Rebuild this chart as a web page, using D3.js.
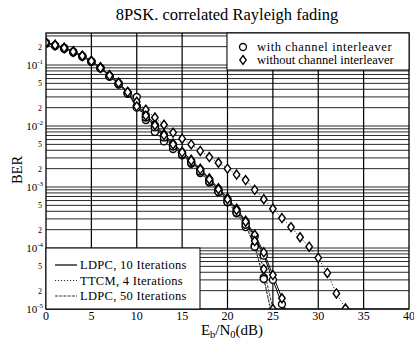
<!DOCTYPE html>
<html>
<head>
<meta charset="utf-8">
<script src="https://cdn.jsdelivr.net/npm/d3@7"></script>
<style>
  body { margin: 0; background: #fff; }
  text { font-family: "Liberation Serif", "DejaVu Serif", serif; fill: #000; }
</style>
</head>
<body>
<div id="chart"></div>
<script>
// Eb/N0 values (dB) for each curve
const snrTo25 = [0,1,2,3,4,5,6,7,8,9,10,11,12,13,14,15,16,17,18,19,20,21,22,23,24,25];
const snrTo27 = [0,1,2,3,4,5,6,7,8,9,10,11,12,13,14,15,16,17,18,19,20,21,22,23,24,25,26,27];
const snrTo33 = [0,1,2,3,4,5,6,7,8,9,10,11,12,13,14,15,16,17,18,19,20,21,22,23,24,25,26,27,28,29,30,31,32,33];

// BER
const ldpc10With = [0.23,0.21,0.19,0.165,0.14,0.115,0.09,0.066,0.05,0.035,0.021,0.0145,0.0100,0.0069,0.0049,0.0036,0.0026,0.0019,0.00130,0.00090,0.00062,0.00041,0.00026,0.000155,0.000075,0.000030,0.000012,0.000004];
const ldpc10Without = [0.235,0.215,0.19,0.168,0.142,0.117,0.092,0.068,0.052,0.036,0.022,0.0155,0.0108,0.0074,0.0052,0.0038,0.0028,0.0020,0.00138,0.00096,0.00066,0.00044,0.00028,0.000165,0.000085,0.000036,0.000015,0.000005];
const ttcmWith = [0.225,0.205,0.185,0.16,0.138,0.113,0.088,0.065,0.048,0.034,0.030,0.0125,0.0080,0.0056,0.0042,0.0033,0.0024,0.0017,0.00118,0.00083,0.00056,0.00037,0.00022,0.00011,0.000033,0.000006];
const ttcmWithout = [0.23,0.21,0.19,0.165,0.14,0.116,0.091,0.067,0.05,0.036,0.025,0.0185,0.0138,0.0105,0.0078,0.0062,0.0050,0.0039,0.0031,0.0025,0.0020,0.0016,0.0013,0.00090,0.00063,0.00044,0.00031,0.00022,0.00015,0.000105,0.000069,0.000039,0.000018,0.0000102];
const ldpc50With = [0.23,0.208,0.188,0.163,0.138,0.113,0.088,0.065,0.049,0.034,0.020,0.0138,0.0095,0.0065,0.0046,0.0034,0.0025,0.00180,0.00122,0.00084,0.00057,0.00038,0.00024,0.000105,0.000031,0.000007];
const ldpc50Without = [0.232,0.212,0.19,0.166,0.141,0.116,0.09,0.067,0.051,0.036,0.021,0.0148,0.0103,0.0071,0.0050,0.0037,0.0027,0.00195,0.00133,0.00092,0.00063,0.00042,0.00027,0.000130,0.000045,0.000010];

const xTicks = [0,5,10,15,20,25,30,35,40];
const yMajor = [1e-1,1e-2,1e-3,1e-4,1e-5];
const yMajorExp = ["-1","-2","-3","-4","-5"];
const yMinor = [2e-1,5e-2,2e-2,5e-3,2e-3,5e-4,2e-4,5e-5,2e-5];
const yMinorText = ["2","5","2","5","2","5","2","5","2"];

const series = [
  { x: snrTo27, y: ldpc10With, marker: "circle", dash: null },
  { x: snrTo27, y: ldpc10Without, marker: "diamond", dash: null },
  { x: snrTo25, y: ttcmWith, marker: "circle", dash: "1.2,1.8" },
  { x: snrTo33, y: ttcmWithout, marker: "diamond", dash: "1.2,1.8" },
  { x: snrTo25, y: ldpc50With, marker: "circle", dash: "3,1.2" },
  { x: snrTo25, y: ldpc50Without, marker: "diamond", dash: "3,1.2" }
];

const width = 414, height = 346,
      margin = ({ top: 33, right: 5, bottom: 37, left: 46 });

let svg = d3.select("#chart")
    .append("svg")
    .attr("width", width)
    .attr("height", height);

let x = d3.scaleLinear()
    .domain([0, 40])
    .range([margin.left, width - margin.right]);

let y = d3.scaleLog()
    .domain([1e-5, 0.335])
    .range([height - margin.bottom, margin.top]);

svg.append("defs").append("clipPath")
    .attr("id", "plot")
    .append("rect")
    .attr("x", margin.left).attr("y", margin.top)
    .attr("width", x(40) - x(0)).attr("height", y(1e-5) - y(0.335));

// horizontal grid on every minor decade step
let yGrid = [];
for (let e = -5; e <= -1; e++) {
    for (let m = 1; m <= 9; m++) {
        let v = m * Math.pow(10, e);
        if (v <= 0.335) yGrid.push(v);
    }
}

svg.append("g")
    .selectAll("line")
    .data(yGrid)
    .join("line")
    .attr("x1", x(0)).attr("x2", x(40))
    .attr("y1", d => y(d)).attr("y2", d => y(d))
    .attr("stroke", "#111")
    .attr("stroke-width", 0.9);

svg.append("g")
    .selectAll("line")
    .data(xTicks.slice(1, -1))
    .join("line")
    .attr("x1", d => x(d)).attr("x2", d => x(d))
    .attr("y1", y(0.335)).attr("y2", y(1e-5))
    .attr("stroke", "#000")
    .attr("stroke-width", 1.2);

// curves
let line = d3.line()
    .x(d => x(d[0]))
    .y(d => y(d[1]));

let plot = svg.append("g").attr("clip-path", "url(#plot)");

for (let s of series) {
    let pts = s.x.map((v, i) => [v, s.y[i]]);
    plot.append("path")
        .datum(pts)
        .attr("fill", "none")
        .attr("stroke", s.dash ? "#333" : "#000")
        .attr("stroke-width", 1)
        .attr("stroke-dasharray", s.dash)
        .attr("d", line);
}

// open circle and a narrow diamond like the scanned figure
let symCircle = d3.symbol().type(d3.symbolCircle).size(38);
let narrowDiamond = {
    draw(ctx, size) {
        let h = Math.sqrt(size) * 0.75, w = h * 0.72;
        ctx.moveTo(0, -h); ctx.lineTo(w, 0); ctx.lineTo(0, h); ctx.lineTo(-w, 0); ctx.closePath();
    }
};
let symDiamond = d3.symbol().type(narrowDiamond).size(36);

for (let s of series) {
    let pts = s.x.map((v, i) => [v, s.y[i]]);
    plot.append("g")
        .selectAll("path")
        .data(pts)
        .join("path")
        .attr("transform", d => `translate(${x(d[0])},${y(d[1])})`)
        .attr("d", s.marker === "circle" ? symCircle : symDiamond)
        .attr("fill", "#fff")
        .attr("stroke", "#000")
        .attr("stroke-width", 1.4);
}

// frame
svg.append("rect")
    .attr("x", x(0)).attr("y", y(0.335))
    .attr("width", x(40) - x(0)).attr("height", y(1e-5) - y(0.335))
    .attr("fill", "none")
    .attr("stroke", "#000")
    .attr("stroke-width", 1.3);

// x tick labels
svg.append("g")
    .selectAll("text")
    .data(xTicks)
    .join("text")
    .attr("x", d => x(d))
    .attr("y", 320)
    .attr("text-anchor", "middle")
    .attr("font-size", 12)
    .text(d => d);

// y tick labels
let yMaj = svg.append("g")
    .selectAll("text")
    .data(yMajor)
    .join("text")
    .attr("x", 43)
    .attr("y", d => y(d) + 4)
    .attr("text-anchor", "end")
    .attr("font-size", 11);
yMaj.append("tspan").text("10");
yMaj.append("tspan")
    .attr("dy", -5)
    .attr("font-size", 7)
    .text((d, i) => yMajorExp[i]);

svg.append("g")
    .selectAll("text")
    .data(yMinor)
    .join("text")
    .attr("x", 42)
    .attr("y", d => y(d) + 3)
    .attr("text-anchor", "end")
    .attr("font-size", 8)
    .text((d, i) => yMinorText[i]);

// title and axis titles
svg.append("text")
    .attr("x", 227).attr("y", 20)
    .attr("text-anchor", "middle")
    .attr("font-size", 16.5)
    .text("8PSK. correlated Rayleigh fading");

svg.append("text")
    .attr("transform", "translate(22,170) rotate(-90)")
    .attr("text-anchor", "middle")
    .attr("font-size", 14.5)
    .text("BER");

let xl = svg.append("text")
    .attr("x", 232).attr("y", 335)
    .attr("text-anchor", "middle")
    .attr("font-size", 15);
xl.append("tspan").text("E");
xl.append("tspan").attr("dy", 3).attr("font-size", 10.5).text("b");
xl.append("tspan").attr("dy", -3).text("/N");
xl.append("tspan").attr("dy", 3).attr("font-size", 10.5).text("0");
xl.append("tspan").attr("dy", -3).text("(dB)");

// marker legend (top right)
let lg1 = svg.append("g");
lg1.append("rect")
    .attr("x", 227).attr("y", 33).attr("width", 182).attr("height", 37)
    .attr("fill", "#fff").attr("stroke", "#000").attr("stroke-width", 1);
const markerLegend = [
  { label: "with channel interleaver", sym: symCircle },
  { label: "without channel interleaver", sym: symDiamond }
];
markerLegend.forEach((d, i) => {
    lg1.append("path")
        .attr("transform", `translate(243,${47 + i * 13})`)
        .attr("d", d.sym)
        .attr("fill", "#fff").attr("stroke", "#000").attr("stroke-width", 1.3);
    lg1.append("text")
        .attr("x", 257).attr("y", 51 + i * 13)
        .attr("font-size", 12.5)
        .attr("letter-spacing", i === 0 ? 0.6 : 0)
        .text(d.label);
});

// line legend (bottom left)
let lg2 = svg.append("g");
lg2.append("rect")
    .attr("x", 46).attr("y", 248).attr("width", 154).attr("height", 61)
    .attr("fill", "#fff").attr("stroke", "#000").attr("stroke-width", 1);
const lineLegend = [
  { label: "LDPC, 10 Iterations", dash: null },
  { label: "TTCM, 4 Iterations", dash: "1.2,1.8" },
  { label: "LDPC, 50 Iterations", dash: "3,1.2" }
];
lineLegend.forEach((d, i) => {
    let yy = 265 + i * 15.5;
    lg2.append("line")
        .attr("x1", 55).attr("x2", 77).attr("y1", yy).attr("y2", yy)
        .attr("stroke", d.dash ? "#333" : "#000")
        .attr("stroke-width", 1.2)
        .attr("stroke-dasharray", d.dash);
    lg2.append("text")
        .attr("x", 80).attr("y", yy + 4)
        .attr("font-size", 12.5)
        .attr("letter-spacing", 0.3)
        .text(d.label);
});
</script>
</body>
</html>
